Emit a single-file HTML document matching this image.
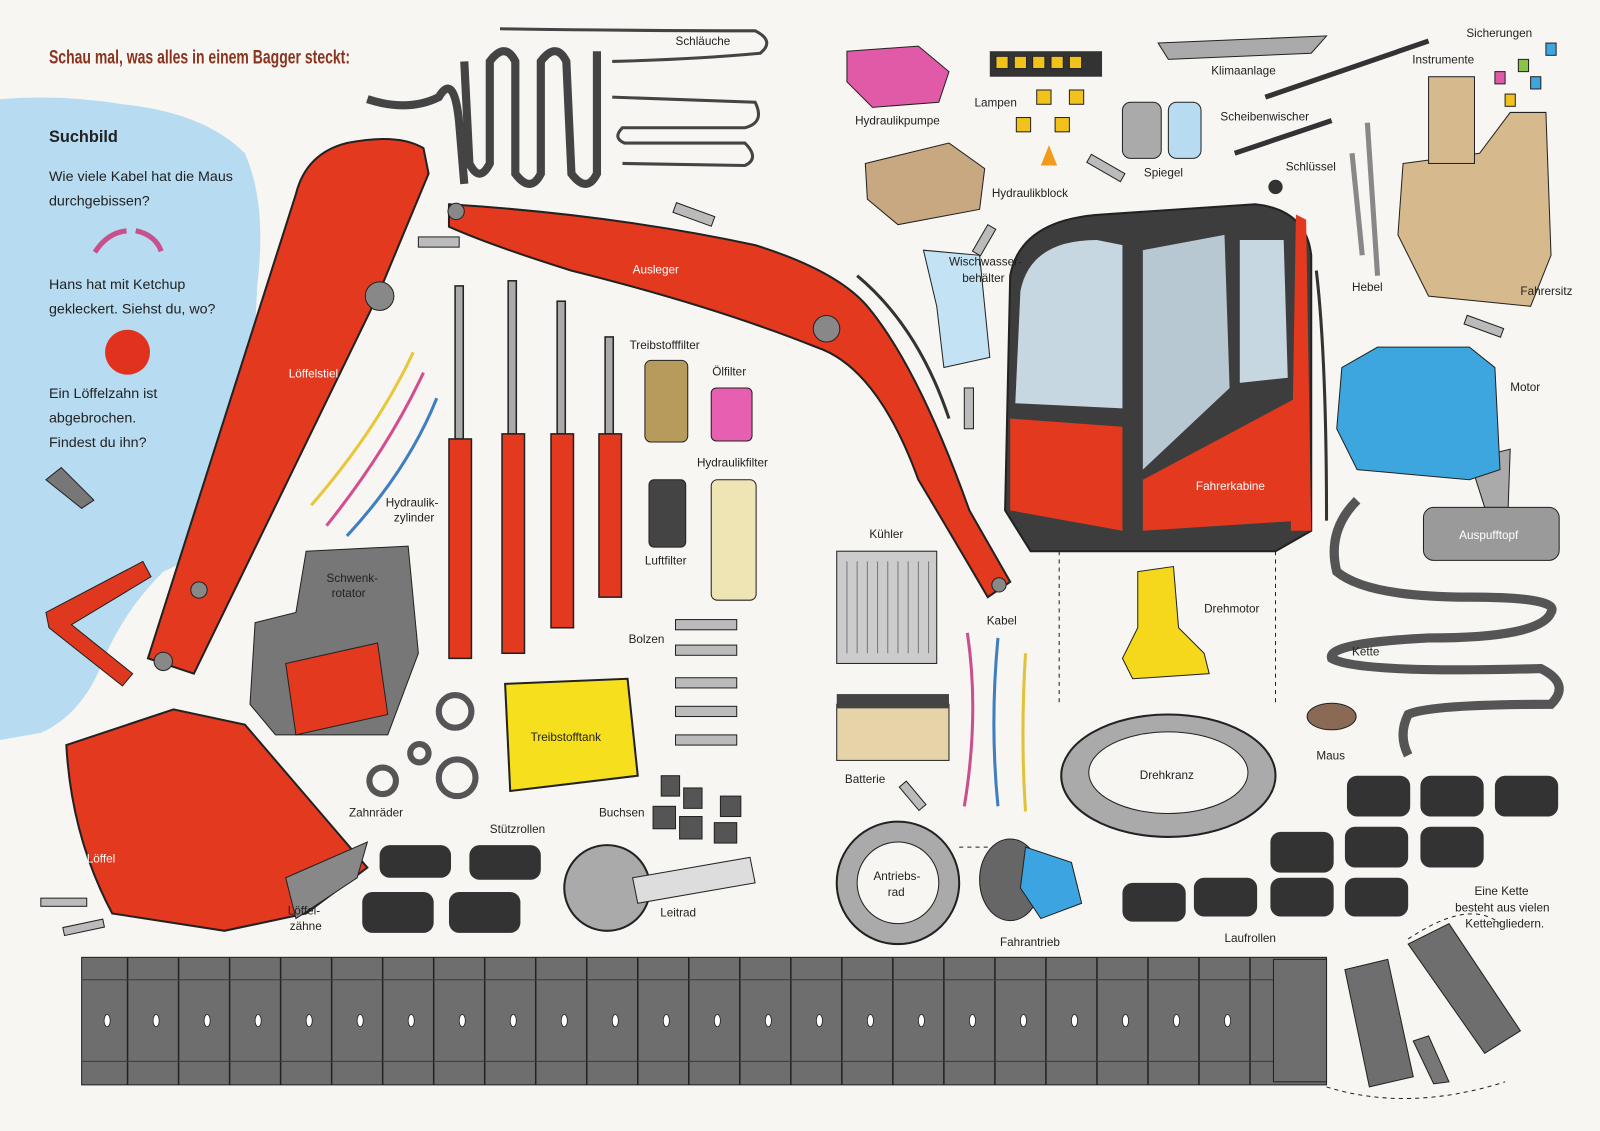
<!DOCTYPE html>
<html><head><meta charset="utf-8"><style>
html,body{margin:0;padding:0;background:#f7f6f2}
svg{display:block}
text{font-family:"Liberation Sans",sans-serif;font-size:11.5px;fill:#222}
.w{fill:#fff}
</style></head><body>
<svg width="1600" height="1131" viewBox="0 0 1568 1108" xmlns="http://www.w3.org/2000/svg">
<rect width="1568" height="1108" fill="#f7f6f2"/>
<path d="M0 97 Q60 92 120 102 Q200 110 240 150 Q262 200 252 280 Q248 380 240 470 Q230 530 160 560 Q120 600 100 650 Q80 700 40 718 L0 725 Z" fill="#b7dbf1"/>
<text x="48" y="62" textLength="295" lengthAdjust="spacingAndGlyphs" style="font-size:19px;font-weight:bold;fill:#8a3420">Schau mal, was alles in einem Bagger steckt:</text>
<text x="48" y="139" style="font-size:16px;font-weight:bold">Suchbild</text>
<text x="48" y="177" style="font-size:14px">Wie viele Kabel hat die Maus</text>
<text x="48" y="201" style="font-size:14px">durchgebissen?</text>
<path d="M93 247 Q105 228 124 226 M133 226 Q152 230 158 246" stroke="#c9508c" stroke-width="5" fill="none"/>
<text x="48" y="283" style="font-size:14px">Hans hat mit Ketchup</text>
<text x="48" y="307" style="font-size:14px">gekleckert. Siehst du, wo?</text>
<circle cx="125" cy="345" r="22" fill="#e0321e"/>
<text x="48" y="390" style="font-size:14px">Ein Löffelzahn ist</text>
<text x="48" y="414" style="font-size:14px">abgebrochen.</text>
<text x="48" y="438" style="font-size:14px">Findest du ihn?</text>
<path d="M45 470 L60 458 L92 490 L80 498 Z" fill="#777" stroke="#222"/>
<path d="M45 600 L140 550 L148 565 L70 612 L130 660 L120 672 L48 615 Z" fill="#e0381e" stroke="#222"/>
<path d="M145 645 L290 190 Q300 150 340 140 Q390 130 415 145 L420 170 L370 290 L190 660 Z" fill="#e3391f" stroke="#222" stroke-width="2"/>
<circle cx="372" cy="290" r="14" fill="#888" stroke="#222"/><circle cx="160" cy="648" r="9" fill="#888" stroke="#222"/><circle cx="195" cy="578" r="8" fill="#888" stroke="#222"/>
<text x="283" y="370" class="w">Löffelstiel</text>
<path d="M440 200 Q600 210 740 240 Q820 265 850 300 Q900 360 950 500 L990 570 L968 585 Q930 520 900 470 Q860 360 800 340 Q700 300 560 265 Q480 240 440 222 Z" fill="#e3391f" stroke="#222" stroke-width="2"/>
<circle cx="810" cy="322" r="13" fill="#888" stroke="#222"/><circle cx="447" cy="207" r="8" fill="#888" stroke="#222"/><circle cx="979" cy="573" r="7" fill="#888" stroke="#222"/>
<text x="620" y="268" class="w">Ausleger</text>
<path d="M360 97 Q400 110 430 95 Q445 70 450 120 L455 180 M455 60 L460 160 Q470 180 480 160 L480 60 Q495 40 505 60 L505 170 Q520 190 530 170 L530 60 Q545 40 555 60 L560 170 Q575 190 585 170 L585 50" stroke="#444" stroke-width="8" fill="none"/>
<path d="M490 28 Q620 30 740 30 Q760 40 745 52 Q680 58 600 60" stroke="#444" stroke-width="3" fill="none"/>
<path d="M600 95 L740 100 Q750 120 730 125 L610 125 Q600 135 612 140 L730 140 Q745 155 730 162 L610 160" stroke="#444" stroke-width="3" fill="none"/>
<text x="662" y="44">Schläuche</text>
<g stroke="#222" stroke-width="1.5">
<rect x="446" y="280" width="8" height="150" fill="#aaa"/><rect x="440" y="430" width="22" height="215" fill="#e3391f"/>
<rect x="498" y="275" width="8" height="150" fill="#aaa"/><rect x="492" y="425" width="22" height="215" fill="#e3391f"/>
<rect x="546" y="295" width="8" height="130" fill="#aaa"/><rect x="540" y="425" width="22" height="190" fill="#e3391f"/>
<rect x="593" y="330" width="8" height="95" fill="#aaa"/><rect x="587" y="425" width="22" height="160" fill="#e3391f"/>
</g>
<path d="M305 495 Q370 420 405 345" stroke="#e8c83a" stroke-width="3" fill="none"/>
<path d="M320 515 Q380 440 415 365" stroke="#d34d8f" stroke-width="3" fill="none"/>
<path d="M340 525 Q400 460 428 390" stroke="#3f7fc0" stroke-width="3" fill="none"/>
<text x="378" y="496">Hydraulik-</text><text x="386" y="511">zylinder</text>
<path d="M250 610 L290 600 L300 540 L400 535 L410 640 L380 720 L270 720 L245 690 Z" fill="#777" stroke="#222"/>
<path d="M280 650 L370 630 L380 700 L290 720 Z" fill="#e3391f" stroke="#222"/>
<text x="320" y="570">Schwenk-</text><text x="325" y="585">rotator</text>
<path d="M65 730 L170 695 L240 710 L300 780 L360 850 L300 895 L220 912 L110 895 Q70 820 65 730 Z" fill="#e3391f" stroke="#222" stroke-width="2"/>
<path d="M280 860 L360 825 L350 860 L290 900 Z" fill="#888" stroke="#222"/>
<text x="85" y="845" class="w">Löffel</text>
<text x="282" y="896">Löffel-</text><text x="284" y="911">zähne</text>
<rect x="40" y="880" width="45" height="8" fill="#bbb" stroke="#222"/>
<rect x="62" y="905" width="40" height="8" fill="#bbb" stroke="#222" transform="rotate(-12 80 909)"/>
<g fill="none" stroke="#555" stroke-width="6"><circle cx="446" cy="697" r="16"/><circle cx="375" cy="765" r="13"/><circle cx="448" cy="762" r="18"/><circle cx="411" cy="738" r="9"/></g>
<text x="342" y="800">Zahnräder</text>
<path d="M495 670 L615 665 L625 760 L500 775 Z" fill="#f6df1c" stroke="#222" stroke-width="2"/>
<text x="520" y="726">Treibstofftank</text>
<rect x="632" y="353" width="42" height="80" rx="6" fill="#b79b5d" stroke="#222"/>
<text x="617" y="342">Treibstofffilter</text>
<rect x="697" y="380" width="40" height="52" rx="5" fill="#e65fb0" stroke="#222"/>
<text x="698" y="368">Ölfilter</text>
<rect x="636" y="470" width="36" height="66" rx="5" fill="#444" stroke="#222"/>
<text x="632" y="553">Luftfilter</text>
<rect x="697" y="470" width="44" height="118" rx="6" fill="#efe4b3" stroke="#222"/>
<text x="683" y="457">Hydraulikfilter</text>
<g fill="#bbb" stroke="#222"><rect x="662" y="607" width="60" height="10"/><rect x="662" y="632" width="60" height="10"/><rect x="662" y="664" width="60" height="10"/><rect x="662" y="692" width="60" height="10"/><rect x="662" y="720" width="60" height="10"/></g>
<text x="616" y="630">Bolzen</text>
<g fill="#555" stroke="#222"><rect x="648" y="760" width="18" height="20"/><rect x="670" y="772" width="18" height="20"/><rect x="640" y="790" width="22" height="22"/><rect x="666" y="800" width="22" height="22"/><rect x="706" y="780" width="20" height="20"/><rect x="700" y="806" width="22" height="20"/></g>
<text x="587" y="800">Buchsen</text>
<g fill="#333"><rect x="372" y="828" width="70" height="32" rx="10"/><rect x="460" y="828" width="70" height="34" rx="10"/><rect x="355" y="874" width="70" height="40" rx="10"/><rect x="440" y="874" width="70" height="40" rx="10"/></g>
<text x="480" y="816">Stützrollen</text>
<circle cx="595" cy="870" r="42" fill="#aaa" stroke="#222" stroke-width="2"/>
<path d="M620 860 L735 840 L740 865 L625 885 Z" fill="#ddd" stroke="#222"/>
<text x="647" y="898">Leitrad</text>
<!-- track -->
<rect x="80" y="938" width="1220" height="125" fill="#6e6e6e" stroke="#222"/>
<g stroke="#222" stroke-width="1.5">
<line x1="125" y1="938" x2="125" y2="1063"/><line x1="175" y1="938" x2="175" y2="1063"/><line x1="225" y1="938" x2="225" y2="1063"/><line x1="275" y1="938" x2="275" y2="1063"/><line x1="325" y1="938" x2="325" y2="1063"/><line x1="375" y1="938" x2="375" y2="1063"/><line x1="425" y1="938" x2="425" y2="1063"/><line x1="475" y1="938" x2="475" y2="1063"/><line x1="525" y1="938" x2="525" y2="1063"/><line x1="575" y1="938" x2="575" y2="1063"/><line x1="625" y1="938" x2="625" y2="1063"/><line x1="675" y1="938" x2="675" y2="1063"/><line x1="725" y1="938" x2="725" y2="1063"/><line x1="775" y1="938" x2="775" y2="1063"/><line x1="825" y1="938" x2="825" y2="1063"/><line x1="875" y1="938" x2="875" y2="1063"/><line x1="925" y1="938" x2="925" y2="1063"/><line x1="975" y1="938" x2="975" y2="1063"/><line x1="1025" y1="938" x2="1025" y2="1063"/><line x1="1075" y1="938" x2="1075" y2="1063"/><line x1="1125" y1="938" x2="1125" y2="1063"/><line x1="1175" y1="938" x2="1175" y2="1063"/><line x1="1225" y1="938" x2="1225" y2="1063"/>
</g>
<g stroke="#3a3a3a" stroke-width="1">
<line x1="80" y1="960" x2="1300" y2="960"/><line x1="80" y1="1040" x2="1300" y2="1040"/>
</g>
<g fill="#fff" stroke="#222" stroke-width="0.8">
<ellipse cx="105" cy="1000" rx="3" ry="6"/><ellipse cx="153" cy="1000" rx="3" ry="6"/><ellipse cx="203" cy="1000" rx="3" ry="6"/><ellipse cx="253" cy="1000" rx="3" ry="6"/><ellipse cx="303" cy="1000" rx="3" ry="6"/><ellipse cx="353" cy="1000" rx="3" ry="6"/><ellipse cx="403" cy="1000" rx="3" ry="6"/><ellipse cx="453" cy="1000" rx="3" ry="6"/><ellipse cx="503" cy="1000" rx="3" ry="6"/><ellipse cx="553" cy="1000" rx="3" ry="6"/><ellipse cx="603" cy="1000" rx="3" ry="6"/><ellipse cx="653" cy="1000" rx="3" ry="6"/><ellipse cx="703" cy="1000" rx="3" ry="6"/><ellipse cx="753" cy="1000" rx="3" ry="6"/><ellipse cx="803" cy="1000" rx="3" ry="6"/><ellipse cx="853" cy="1000" rx="3" ry="6"/><ellipse cx="903" cy="1000" rx="3" ry="6"/><ellipse cx="953" cy="1000" rx="3" ry="6"/><ellipse cx="1003" cy="1000" rx="3" ry="6"/><ellipse cx="1053" cy="1000" rx="3" ry="6"/><ellipse cx="1103" cy="1000" rx="3" ry="6"/><ellipse cx="1153" cy="1000" rx="3" ry="6"/><ellipse cx="1203" cy="1000" rx="3" ry="6"/><ellipse cx="1273" cy="1000" rx="3" ry="6"/>
</g>
<rect x="1248" y="940" width="52" height="120" fill="#6e6e6e" stroke="#222"/>
<path d="M1318 950 L1360 940 L1385 1055 L1342 1065 Z" fill="#6e6e6e" stroke="#222"/>
<path d="M1380 925 L1420 905 L1490 1010 L1455 1032 Z" fill="#6e6e6e" stroke="#222"/>
<path d="M1385 1020 L1400 1015 L1420 1060 L1405 1062 Z" fill="#777" stroke="#222"/>
<path d="M1380 920 Q1440 880 1470 905" stroke="#222" stroke-dasharray="4 4" fill="none"/>
<path d="M1300 1065 Q1380 1090 1475 1060" stroke="#222" stroke-dasharray="4 4" fill="none"/>
<text x="1445" y="877">Eine Kette</text><text x="1426" y="893">besteht aus vielen</text><text x="1436" y="909">Kettengliedern.</text>
<!-- cab -->
<path d="M990 270 Q1000 215 1080 210 L1230 200 Q1280 205 1285 250 L1285 520 L1250 540 L1010 540 L985 500 Z" fill="#3d3d3d" stroke="#222" stroke-width="2"/>
<path d="M1270 210 L1280 215 L1285 520 L1265 520 Z" fill="#e3391f"/>
<path d="M990 410 L1100 418 L1100 520 L990 500 Z" fill="#e3391f"/>
<path d="M1120 470 L1270 390 L1275 510 L1120 520 Z" fill="#e3391f"/>
<path d="M1000 285 Q1010 235 1075 235 L1100 240 L1100 400 L995 395 Z" fill="#c6d7e2"/>
<path d="M1120 245 L1200 230 L1205 380 L1120 460 Z" fill="#b8c8d2"/>
<path d="M1215 235 L1258 235 L1262 370 L1215 375 Z" fill="#c6d7e2"/>
<text x="1172" y="480" class="w">Fahrerkabine</text>
<path d="M1038 540 V690 M1250 540 V690" stroke="#222" stroke-dasharray="4 4"/>
<path d="M1115 560 L1150 555 L1155 615 L1180 640 L1185 660 L1110 665 L1100 645 L1115 615 Z" fill="#f5d81c" stroke="#222"/>
<text x="1180" y="600">Drehmotor</text>
<ellipse cx="1145" cy="760" rx="105" ry="60" fill="#aaa" stroke="#222" stroke-width="2"/>
<ellipse cx="1145" cy="757" rx="78" ry="40" fill="#f7f6f2" stroke="#222"/>
<text x="1117" y="763">Drehkranz</text>
<rect x="820" y="540" width="98" height="110" fill="#ccc" stroke="#222"/>
<g stroke="#777"><line x1="830" y1="550" x2="830" y2="640"/><line x1="840" y1="550" x2="840" y2="640"/><line x1="850" y1="550" x2="850" y2="640"/><line x1="860" y1="550" x2="860" y2="640"/><line x1="870" y1="550" x2="870" y2="640"/><line x1="880" y1="550" x2="880" y2="640"/><line x1="890" y1="550" x2="890" y2="640"/><line x1="900" y1="550" x2="900" y2="640"/><line x1="910" y1="550" x2="910" y2="640"/></g>
<text x="852" y="527">Kühler</text>
<rect x="820" y="690" width="110" height="55" fill="#e6d3a8" stroke="#222"/><rect x="820" y="680" width="110" height="14" fill="#444"/>
<text x="828" y="767">Batterie</text>
<path d="M948 620 Q960 700 945 790" stroke="#c9508c" stroke-width="3" fill="none"/>
<path d="M978 625 Q970 710 978 790" stroke="#3f7fc0" stroke-width="3" fill="none"/>
<path d="M1005 640 Q1000 720 1005 795" stroke="#e0c33a" stroke-width="3" fill="none"/>
<text x="967" y="612">Kabel</text>
<circle cx="880" cy="865" r="60" fill="#aaa" stroke="#222" stroke-width="2"/>
<circle cx="880" cy="865" r="40" fill="#f7f6f2" stroke="#222"/>
<text x="856" y="862">Antriebs-</text><text x="870" y="878">rad</text>
<path d="M940 830 H990" stroke="#222" stroke-dasharray="4 4"/>
<ellipse cx="990" cy="862" rx="30" ry="40" fill="#666" stroke="#222"/>
<path d="M1005 830 L1050 845 L1060 885 L1020 900 L1000 870 Z" fill="#3ca4e0" stroke="#222"/>
<text x="980" y="927">Fahrantrieb</text>
<g fill="#333">
<rect x="1100" y="865" width="62" height="38" rx="10"/><rect x="1170" y="860" width="62" height="38" rx="10"/><rect x="1245" y="860" width="62" height="38" rx="10"/><rect x="1318" y="860" width="62" height="38" rx="10"/>
<rect x="1245" y="815" width="62" height="40" rx="10"/><rect x="1318" y="810" width="62" height="40" rx="10"/><rect x="1392" y="810" width="62" height="40" rx="10"/>
<rect x="1320" y="760" width="62" height="40" rx="10"/><rect x="1392" y="760" width="62" height="40" rx="10"/><rect x="1465" y="760" width="62" height="40" rx="10"/>
</g>
<text x="1200" y="923">Laufrollen</text>
<ellipse cx="1305" cy="702" rx="24" ry="13" fill="#8a6a55" stroke="#222"/>
<text x="1290" y="744">Maus</text>
<path d="M1330 490 Q1300 520 1310 560 Q1340 585 1440 585 Q1530 585 1520 600 Q1510 625 1400 625 Q1300 630 1305 645 Q1330 660 1510 655 Q1540 670 1520 690 Q1400 690 1380 700 Q1370 720 1380 740" stroke="#555" stroke-width="9" fill="none"/>
<text x="1325" y="642">Kette</text>
<path d="M1440 450 L1480 440 L1478 497 L1455 497 Z" fill="#aaa" stroke="#222"/>
<rect x="1395" y="497" width="133" height="52" rx="10" fill="#9a9a9a" stroke="#222"/>
<text x="1430" y="528" class="w">Auspufftopf</text>
<path d="M1315 360 L1350 340 L1440 340 L1465 360 L1470 460 L1440 470 L1330 460 L1310 420 Z" fill="#3ea6df" stroke="#222"/>
<text x="1480" y="383">Motor</text>
<path d="M1375 160 L1450 150 L1480 110 L1515 110 L1520 250 L1500 300 L1400 290 L1370 230 Z" fill="#d6b98c" stroke="#222"/>
<text x="1490" y="289">Fahrersitz</text>
<path d="M1340 120 L1350 270 M1325 150 L1335 250" stroke="#888" stroke-width="5"/>
<text x="1325" y="285">Hebel</text>
<rect x="1400" y="75" width="45" height="85" fill="#d6b98c" stroke="#222"/>
<text x="1384" y="62">Instrumente</text>
<text x="1437" y="36">Sicherungen</text>
<g stroke="#222"><rect x="1465" y="70" width="10" height="12" fill="#e15aa8"/><rect x="1488" y="58" width="10" height="12" fill="#8bc34a"/><rect x="1515" y="42" width="10" height="12" fill="#3ea6df"/><rect x="1500" y="75" width="10" height="12" fill="#3ea6df"/><rect x="1475" y="92" width="10" height="12" fill="#f2c21c"/></g>
<path d="M1240 95 L1400 40 M1210 150 L1305 118" stroke="#333" stroke-width="5"/>
<text x="1196" y="118">Scheibenwischer</text>
<path d="M1135 42 L1300 35 L1285 52 L1145 58 Z" fill="#aaa" stroke="#222"/>
<text x="1187" y="73">Klimaanlage</text>
<text x="1260" y="167">Schlüssel</text>
<circle cx="1250" cy="183" r="7" fill="#333"/>
<rect x="1100" y="100" width="38" height="55" rx="8" fill="#aaa" stroke="#222"/>
<rect x="1145" y="100" width="32" height="55" rx="8" fill="#b7dbf1" stroke="#222"/>
<text x="1121" y="173">Spiegel</text>
<rect x="970" y="50" width="110" height="25" fill="#333"/>
<g fill="#f2c21c" stroke="#222"><rect x="976" y="55" width="12" height="12"/><rect x="994" y="55" width="12" height="12"/><rect x="1012" y="55" width="12" height="12"/><rect x="1030" y="55" width="12" height="12"/><rect x="1048" y="55" width="12" height="12"/><rect x="1016" y="88" width="14" height="14"/><rect x="1048" y="88" width="14" height="14"/><rect x="996" y="115" width="14" height="14"/><rect x="1034" y="115" width="14" height="14"/></g>
<path d="M1020 162 L1028 142 L1036 162 Z" fill="#f29a1c"/>
<text x="955" y="104">Lampen</text>
<path d="M830 50 L900 45 L930 70 L920 100 L855 105 L830 80 Z" fill="#e15aa8" stroke="#222"/>
<text x="838" y="122">Hydraulikpumpe</text>
<path d="M848 160 L930 140 L965 165 L960 205 L880 220 L850 195 Z" fill="#c8a880" stroke="#222"/>
<text x="972" y="193">Hydraulikblock</text>
<path d="M905 245 L960 250 L970 350 L925 360 L918 300 Z" fill="#c3e2f3" stroke="#222"/>
<text x="930" y="260">Wischwasser-</text><text x="943" y="276">behälter</text>
<path d="M840 270 Q900 320 930 410" stroke="#333" stroke-width="3" fill="none"/>
<path d="M1290 265 Q1300 350 1300 510" stroke="#333" stroke-width="3" fill="none"/>
<g fill="#bbb" stroke="#222"><rect x="410" y="232" width="40" height="10"/><rect x="660" y="205" width="40" height="10" transform="rotate(20 680 210)"/><rect x="1065" y="160" width="38" height="9" transform="rotate(30 1084 164)"/><rect x="960" y="220" width="9" height="30" transform="rotate(30 964 235)"/><rect x="945" y="380" width="9" height="40"/><rect x="1435" y="315" width="38" height="9" transform="rotate(20 1454 320)"/><rect x="890" y="765" width="9" height="30" transform="rotate(-40 894 780)"/></g>
</svg>
</body></html>
